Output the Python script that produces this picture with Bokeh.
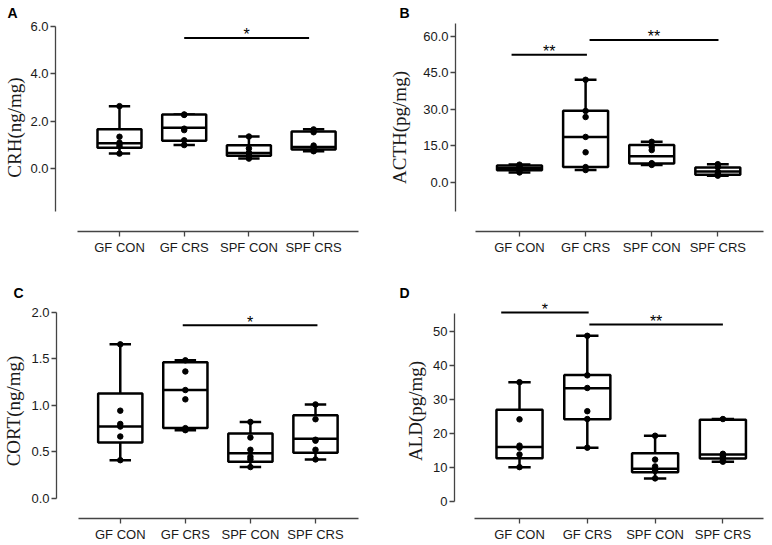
import numpy as np
from bokeh.plotting import figure
from bokeh.layouts import column, row
from bokeh.models import FixedTicker, NumeralTickFormatter, ColumnDataSource
from bokeh.core.properties import value
from bokeh.embed import file_html
from bokeh.resources import INLINE

groups = ["GF CON", "GF CRS", "SPF CON", "SPF CRS"]

# ---------------- Panel A : CRH ----------------
crh_low = [0.64, 1.00, 0.43, 0.74]
crh_q1 = [0.89, 1.18, 0.55, 0.81]
crh_med = [1.08, 1.73, 0.67, 0.92]
crh_q3 = [1.67, 2.29, 0.99, 1.57]
crh_high = [2.64, 2.29, 1.36, 1.67]
crh_points = [
    [2.64, 1.35, 1.10, 1.05, 0.95, 0.64],
    [2.29, 2.27, 1.69, 1.63, 1.20, 1.00],
    [1.36, 0.86, 0.68, 0.64, 0.55, 0.43],
    [1.66, 1.54, 0.98, 0.88, 0.76, 0.74],
]
crh_sig_from = [1.0]
crh_sig_to = [2.93]
crh_sig_y = [5.51]
crh_sig_text = ["*"]
crh_ticks = [0, 2, 4, 6]

# ---------------- Panel B : ACTH ----------------
acth_low = [4.1, 5.1, 7.2, 2.8]
acth_q1 = [5.0, 6.3, 7.8, 3.2]
acth_med = [5.9, 18.7, 10.8, 4.5]
acth_q3 = [7.0, 29.5, 15.4, 6.1]
acth_high = [7.4, 42.2, 16.7, 7.5]
acth_points = [
    [7.3, 6.6, 6.0, 5.6, 5.0, 4.1],
    [42.2, 29.4, 26.9, 18.7, 12.4, 6.3, 5.1],
    [16.7, 14.6, 13.3, 7.9, 7.7, 7.2],
    [7.5, 6.3, 4.4, 3.5, 3.2, 2.8],
]
acth_sig_from = [-0.12, 1.06]
acth_sig_to = [1.02, 3.01]
acth_sig_y = [52.5, 58.6]
acth_sig_text = ["**", "**"]
acth_ticks = [0, 15, 30, 45, 60]

# ---------------- Panel C : CORT ----------------
cort_low = [0.41, 0.733, 0.336, 0.418]
cort_q1 = [0.60, 0.757, 0.393, 0.491]
cort_med = [0.772, 1.165, 0.485, 0.640]
cort_q3 = [1.128, 1.465, 0.698, 0.894]
cort_high = [1.657, 1.487, 0.822, 1.010]
cort_points = [
    [1.657, 0.943, 0.80, 0.772, 0.665, 0.41],
    [1.485, 1.365, 1.165, 1.065, 0.755, 0.733],
    [0.822, 0.654, 0.522, 0.447, 0.42, 0.336],
    [1.010, 0.851, 0.63, 0.62, 0.522, 0.418],
]
cort_sig_from = [0.96]
cort_sig_to = [3.03]
cort_sig_y = [1.864]
cort_sig_text = ["*"]
cort_ticks = [0, 0.5, 1.0, 1.5, 2.0]

# ---------------- Panel D : ALD ----------------
ald_low = [10.1, 15.8, 6.8, 11.7]
ald_q1 = [12.7, 24.1, 8.6, 12.6]
ald_med = [16.0, 33.2, 9.6, 13.8]
ald_q3 = [26.9, 37.1, 14.2, 24.0]
ald_high = [35.0, 48.6, 19.3, 24.2]
ald_points = [
    [35.0, 24.1, 16.4, 15.8, 13.8, 10.1],
    [48.6, 37.0, 33.3, 26.5, 24.2, 15.8],
    [19.3, 12.3, 10.3, 9.5, 9.0, 6.8],
    [24.2, 14.0, 13.5, 13.1, 12.0, 11.7],
]
ald_sig_from = [-0.27, 1.03]
ald_sig_to = [1.02, 3.0]
ald_sig_y = [55.4, 51.9]
ald_sig_text = ["*", "**"]
ald_ticks = [0, 10, 20, 30, 40, 50]

# ---------------- layout / style settings ----------------
BOX_W = 0.68
CAP_W = 0.33
LW = 2.5
AXIS_COLOR = "#444444"
TEXT_COLOR = "#1a1a1a"
SANS = "Liberation Sans"
SERIF = "Liberation Serif"

layouts = {
    "A": dict(w=386, h=280, mbl=55, mbr=14, mbt=22, mbb=49, xr=(-0.989, 3.91), yr=(-2.64, 6.12),
              yb=(-1.8, 6.0), xb=(-0.65, 3.70), lab_so=2, toff=-48),
    "B": dict(w=386, h=280, mbl=69, mbr=9, mbt=22, mbb=49, xr=(-0.968, 3.691), yr=(-20.17, 65.34),
              yb=(-11.9, 65.5), xb=(-0.66, 3.691), lab_so=10, toff=-56),
    "C": dict(w=386, h=264, mbl=50, mbr=14, mbt=22, mbb=26, xr=(-0.980, 3.876), yr=(-0.218, 2.097),
              yb=(0.0, 2.0), xb=(-0.649, 3.665), lab_so=4, toff=-43),
    "D": dict(w=386, h=264, mbl=68, mbr=9, mbt=22, mbb=26, xr=(-0.959, 3.599), yr=(-4.96, 58.07),
              yb=(0.0, 55.2), xb=(-0.664, 3.599), lab_so=4, toff=-55),
}


def panel(letter, ylabel, low, q1, med, q3, high, pts, sf, st, sy, stext, yticks, yfmt):
    lay = layouts[letter]
    p = figure(width=lay["w"], height=lay["h"], x_range=lay["xr"], y_range=lay["yr"],
               output_backend="svg", toolbar_location=None,
               min_border_left=lay["mbl"], min_border_right=lay["mbr"],
               min_border_top=lay["mbt"], min_border_bottom=lay["mbb"])
    p.outline_line_color = None
    p.xgrid.visible = False
    p.ygrid.visible = False
    p.background_fill_color = "white"
    p.border_fill_color = "white"

    # panel letter
    p.title.text = letter
    p.title.align = "left"
    p.title.offset = lay["toff"]
    p.title.text_font = SANS
    p.title.text_font_size = "14px"
    p.title.text_font_style = "bold"
    p.title.text_color = "black"
    p.title.standoff = 5

    x = np.arange(len(groups), dtype=float)
    src = ColumnDataSource(dict(
        x=x, low=low, q1=q1, med=med, q3=q3, high=high,
        b0=x - BOX_W / 2, b1=x + BOX_W / 2, c0=x - CAP_W / 2, c1=x + CAP_W / 2,
    ))
    kw = dict(source=src, line_color="black", line_width=LW)
    p.segment(x0="x", y0="q3", x1="x", y1="high", **kw)
    p.segment(x0="x", y0="low", x1="x", y1="q1", **kw)
    p.segment(x0="c0", y0="high", x1="c1", y1="high", **kw)
    p.segment(x0="c0", y0="low", x1="c1", y1="low", **kw)
    p.quad(left="b0", right="b1", bottom="q1", top="q3", fill_color="white", **kw)
    p.segment(x0="b0", y0="med", x1="b1", y1="med", **kw)

    px = np.concatenate([np.full(len(v), i, dtype=float) for i, v in enumerate(pts)])
    py = np.concatenate([np.asarray(v, dtype=float) for v in pts])
    p.scatter(px, py, size=5.5, color="black")

    # significance bars
    sig = ColumnDataSource(dict(x0=sf, x1=st, y=sy, t=stext,
                                xm=(np.asarray(sf) + np.asarray(st)) / 2))
    p.segment(x0="x0", y0="y", x1="x1", y1="y", source=sig, line_color="black", line_width=2)
    p.text(x="xm", y="y", text="t", source=sig, text_font=value(SANS), text_font_size="16px",
           text_align="center", text_baseline="alphabetic", y_offset=-3, text_color="black")

    # axes
    yax = p.yaxis[0]
    yax.ticker = FixedTicker(ticks=yticks)
    yax.formatter = NumeralTickFormatter(format=yfmt)
    yax.bounds = lay["yb"]
    yax.axis_label = ylabel
    yax.axis_label_text_font = SERIF
    yax.axis_label_text_font_size = "19px"
    yax.axis_label_text_font_style = "normal"
    yax.axis_label_text_color = TEXT_COLOR
    yax.axis_label_standoff = lay["lab_so"]

    xax = p.xaxis[0]
    xax.ticker = FixedTicker(ticks=list(range(len(groups))))
    xax.major_label_overrides = {i: g for i, g in enumerate(groups)}
    xax.bounds = lay["xb"]

    for ax in (xax, yax):
        ax.axis_line_color = AXIS_COLOR
        ax.axis_line_width = 1.3
        ax.major_tick_line_color = AXIS_COLOR
        ax.major_tick_line_width = 1.3
        ax.major_tick_out = 5
        ax.major_tick_in = 0
        ax.minor_tick_out = 0
        ax.minor_tick_in = 0
        ax.major_label_text_font = SANS
        ax.major_label_text_font_size = "13px"
        ax.major_label_text_color = TEXT_COLOR
        ax.major_label_standoff = 2
    xax.major_label_standoff = 3
    return p


pA = panel("A", "CRH(ng/mg)", crh_low, crh_q1, crh_med, crh_q3, crh_high, crh_points,
           crh_sig_from, crh_sig_to, crh_sig_y, crh_sig_text, crh_ticks, "0.0")
pB = panel("B", "ACTH(pg/mg)", acth_low, acth_q1, acth_med, acth_q3, acth_high, acth_points,
           acth_sig_from, acth_sig_to, acth_sig_y, acth_sig_text, acth_ticks, "0.0")
pC = panel("C", "CORT(ng/mg)", cort_low, cort_q1, cort_med, cort_q3, cort_high, cort_points,
           cort_sig_from, cort_sig_to, cort_sig_y, cort_sig_text, cort_ticks, "0.0")
pD = panel("D", "ALD(pg/mg)", ald_low, ald_q1, ald_med, ald_q3, ald_high, ald_points,
           ald_sig_from, ald_sig_to, ald_sig_y, ald_sig_text, ald_ticks, "0")

layout = column(row(pA, pB), row(pC, pD))
open("out.html", "w").write(file_html(layout, INLINE))
